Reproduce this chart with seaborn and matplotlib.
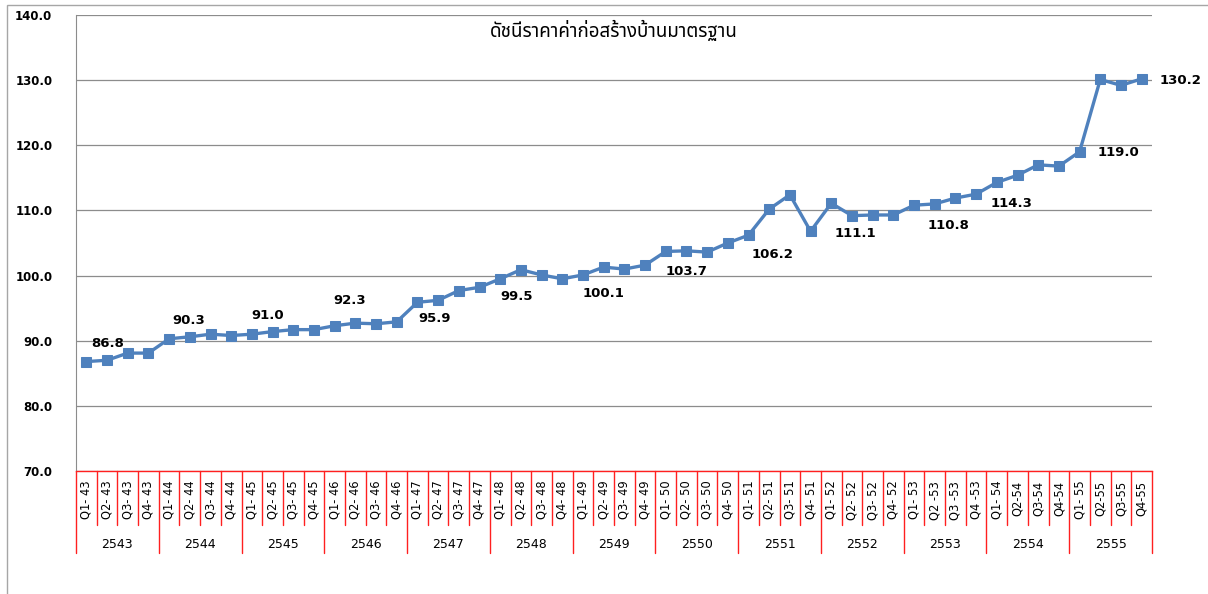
import matplotlib
matplotlib.use("Agg")
import matplotlib.pyplot as plt
from matplotlib.patches import Rectangle
import seaborn as sns
import numpy as np
import pandas as pd

# Thai BE years, four quarters each
years = ["2543", "2544", "2545", "2546", "2547", "2548", "2549",
         "2550", "2551", "2552", "2553", "2554", "2555"]

quarter_labels = [
    "Q1- 43", "Q2- 43", "Q3- 43", "Q4- 43",
    "Q1- 44", "Q2- 44", "Q3- 44", "Q4- 44",
    "Q1- 45", "Q2- 45", "Q3- 45", "Q4- 45",
    "Q1- 46", "Q2- 46", "Q3- 46", "Q4- 46",
    "Q1- 47", "Q2- 47", "Q3- 47", "Q4- 47",
    "Q1- 48", "Q2- 48", "Q3- 48", "Q4- 48",
    "Q1- 49", "Q2- 49", "Q3- 49", "Q4- 49",
    "Q1- 50", "Q2- 50", "Q3- 50", "Q4- 50",
    "Q1- 51", "Q2- 51", "Q3- 51", "Q4- 51",
    "Q1- 52", "Q2- 52", "Q3- 52", "Q4- 52",
    "Q1- 53", "Q2 -53", "Q3 -53", "Q4 -53",
    "Q1- 54", "Q2-54", "Q3-54", "Q4-54",
    "Q1- 55", "Q2-55", "Q3-55", "Q4-55",
]

index_values = [
    86.8, 87.0, 88.1, 88.1,
    90.3, 90.6, 91.0, 90.8,
    91.0, 91.4, 91.7, 91.7,
    92.3, 92.7, 92.6, 92.9,
    95.9, 96.2, 97.7, 98.2,
    99.5, 100.9, 100.1, 99.5,
    100.1, 101.3, 101.0, 101.6,
    103.7, 103.8, 103.6, 105.0,
    106.2, 110.2, 112.4, 106.8,
    111.1, 109.2, 109.3, 109.3,
    110.8, 111.0, 111.9, 112.5,
    114.3, 115.4, 117.0, 116.8,
    119.0, 130.1, 129.2, 130.2,
]

# which points carry a data label, and the label's pixel offset from the point
label_points = [0, 4, 8, 12, 16, 20, 24, 28, 32, 36, 40, 44, 48, 51]
label_offsets = [(21, 18), (20, 18), (16, 19), (15, 25), (17, -16), (16, -18),
                 (21, -19), (21, -20), (24, -19), (24, -30), (34, -20),
                 (15, -21), (39, -1), (39, -2)]

title = "ดัชนีราคาค่าก่อสร้างบ้านมาตรฐาน"

sns.set_style("white")
plt.rcParams["font.family"] = ["DejaVu Sans"]
plt.rcParams["text.color"] = "black"
plt.rcParams["xtick.color"] = "black"
plt.rcParams["ytick.color"] = "black"
thai_family = ["Tahoma", "Noto Sans Thai", "Sarabun", "Anuphan", "DejaVu Sans"]

df = pd.DataFrame({"pos": np.arange(len(index_values)), "value": index_values})

fig = plt.figure(figsize=(12.08, 5.94), dpi=100)
ax = fig.add_axes([76 / 1208, 1 - 471 / 594, (1152 - 76) / 1208, (471 - 15) / 594])

sns.lineplot(data=df, x="pos", y="value", ax=ax, color="#4F81BD", linewidth=2.4,
             marker="s", markersize=7, markeredgecolor="#4F81BD")

ax.set_xlim(-0.5, len(index_values) - 0.5)
ax.set_ylim(70, 140)
ax.set_yticks(np.arange(70, 141, 10))
ax.set_yticklabels([f"{v:.1f}" for v in np.arange(70, 141, 10)],
                   fontweight="bold", fontsize=8.5)
ax.yaxis.grid(True, color="#8c8c8c", linewidth=0.9)
ax.set_xlabel("")
ax.set_ylabel("")

ax.set_xticks(np.arange(len(quarter_labels)))
ax.set_xticklabels(quarter_labels, rotation=90, fontsize=8.3)
ax.tick_params(axis="x", length=0, pad=7)
ax.tick_params(axis="y", length=0, pad=17)

for side in ["top", "right"]:
    ax.spines[side].set_visible(False)
ax.spines["left"].set_color("#8c8c8c")
ax.spines["bottom"].set_color("#ff2020")
ax.spines["bottom"].set_linewidth(1.0)

# multi-level category axis separators
trans = ax.get_xaxis_transform()
n = len(quarter_labels)
for i in range(n + 1):
    depth = -0.18 if i % 4 == 0 else -0.118
    ax.plot([i - 0.5, i - 0.5], [0, depth], color="#ff2020", linewidth=1.0,
            transform=trans, clip_on=False)
for k, yr in enumerate(years):
    ax.text(4 * k + 1.5, -0.162, yr, transform=trans, ha="center", va="center",
            fontsize=9)

for p, (dx, dy) in zip(label_points, label_offsets):
    ax.annotate(f"{index_values[p]:.1f}", (p, index_values[p]),
                xytext=(dx, dy), textcoords="offset pixels",
                ha="center", va="center", fontsize=9.5, fontweight="bold")

ax.text(0.5, 0.967, title, transform=ax.transAxes, ha="center", va="center",
        fontsize=13.5, family=thai_family)

fig.patches.append(Rectangle((7 / 1208, -0.01), 1.2, 1 - 5 / 594 + 0.01,
                             transform=fig.transFigure, fill=False,
                             edgecolor="#a6a6a6", linewidth=1.0))

fig.savefig("out.png", dpi=100)
